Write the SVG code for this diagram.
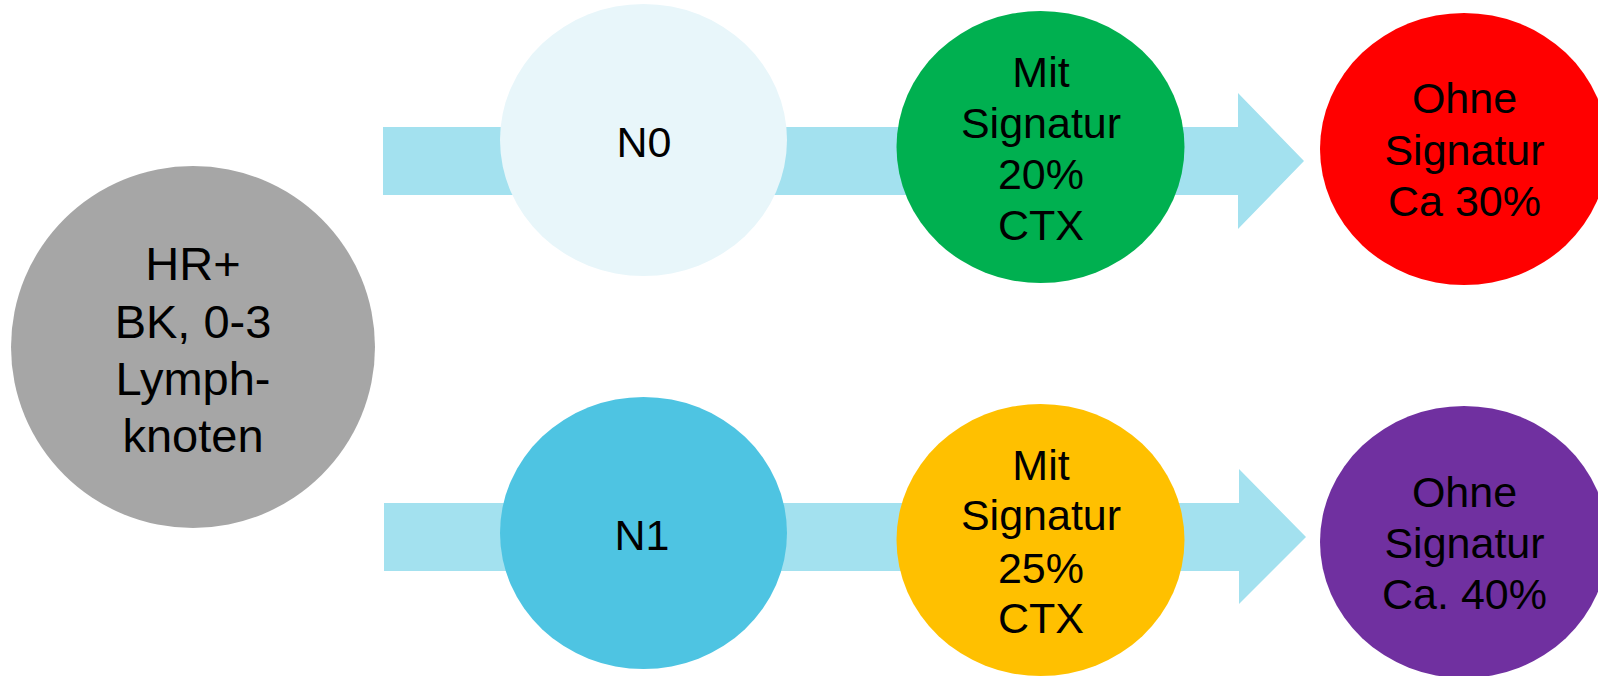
<svg xmlns="http://www.w3.org/2000/svg" width="1598" height="676" viewBox="0 0 1598 676">
<style>
text{font-family:"Liberation Sans",Arial,sans-serif;fill:#000;text-anchor:middle}
.big{font-size:47px}
.mid{font-size:43px}
.arrow{fill:#A3E1EF}
</style>
<rect width="1598" height="676" fill="#fff"/>
<g id="connectors">
<polygon class="arrow" points="383,127 1238,127 1238,93 1304,161 1238,229 1238,195 383,195"/>
<polygon class="arrow" points="384,503 1239,503 1239,469 1306,537 1239,604 1239,571 384,571"/>
</g>
<g id="root">
<ellipse cx="193" cy="347" rx="182" ry="181" fill="#A6A6A6"/>
<text class="big"><tspan x="193" y="280">HR+</tspan><tspan x="193" y="337.5">BK, 0-3</tspan><tspan x="193" y="395">Lymph-</tspan><tspan x="193" y="452">knoten</tspan></text>
</g>
<g id="n0">
<ellipse cx="643.5" cy="140" rx="143.5" ry="136" fill="#E8F6FA"/>
<text class="mid" x="644" y="156.5">N0</text>
</g>
<g id="n1">
<ellipse cx="643.5" cy="533" rx="143.5" ry="136" fill="#4EC4E2"/>
<text class="mid" x="642" y="549.5">N1</text>
</g>
<g id="mit20">
<ellipse cx="1040.5" cy="147" rx="144" ry="136" fill="#00B050"/>
<text class="mid"><tspan x="1041" y="87.3">Mit</tspan><tspan x="1041" y="137.5">Signatur</tspan><tspan x="1041" y="189">20%</tspan><tspan x="1041" y="240">CTX</tspan></text>
</g>
<g id="ohne30">
<ellipse cx="1464" cy="149" rx="144" ry="136" fill="#FF0000"/>
<text class="mid"><tspan x="1464.5" y="113.3">Ohne</tspan><tspan x="1464.5" y="165">Signatur</tspan><tspan x="1464.5" y="216">Ca 30%</tspan></text>
</g>
<g id="mit25">
<ellipse cx="1040.5" cy="540" rx="144" ry="136" fill="#FFC000"/>
<text class="mid"><tspan x="1041" y="480">Mit</tspan><tspan x="1041" y="530.3">Signatur</tspan><tspan x="1041" y="582.5">25%</tspan><tspan x="1041" y="632.7">CTX</tspan></text>
</g>
<g id="ohne40">
<ellipse cx="1464" cy="542" rx="144" ry="136" fill="#7030A0"/>
<text class="mid"><tspan x="1464.5" y="506.7">Ohne</tspan><tspan x="1464.5" y="557.7">Signatur</tspan><tspan x="1464.5" y="609.3">Ca. 40%</tspan></text>
</g>
</svg>
